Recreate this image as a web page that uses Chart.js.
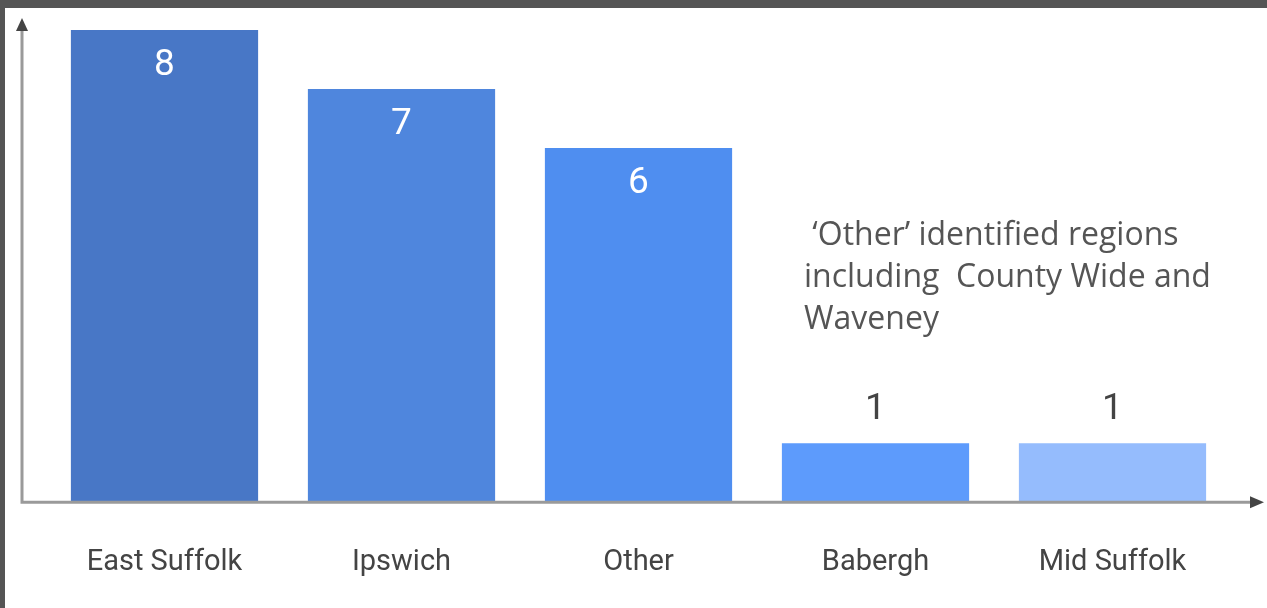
<!DOCTYPE html>
<html lang="en">
<head>
    <meta charset="UTF-8">
    <title>Regions chart</title>
    <style>
        html, body { margin: 0; padding: 0; background: #fff; }
        .main { width: 1267px; height: 608px; }
    </style>
</head>
<body>
    <div class="main">
        <canvas id="myChart" width="1267" height="608"></canvas>
    </div>

    <script src="https://cdn.jsdelivr.net/npm/chart.js"></script>
<script>
    const regions = ['East Suffolk', 'Ipswich', 'Other', 'Babergh', 'Mid Suffolk'];
    const counts = [8, 7, 6, 1, 1];
    const barColours = ['#4877c6', '#4f86dd', '#4f8ef0', '#5d9bfc', '#95bcfd'];
    const noteLines = [' \u2018Other\u2019 identified regions', 'including  County Wide and', 'Waveney'];

    // dark frame, arrow axes and the note
    const decor = {
        id: 'decor',
        beforeDraw(chart) {
            const c = chart.ctx;
            c.save();
            c.fillStyle = '#fff';
            c.fillRect(0, 0, chart.width, chart.height);
            c.fillStyle = '#555555';
            c.fillRect(0, 0, chart.width, 8);
            c.fillRect(0, 0, 5, chart.height);
            c.restore();
        },
        afterDatasetsDraw(chart) {
            const c = chart.ctx;
            const y0 = chart.scales.y.getPixelForValue(0);
            const ax = 22;
            c.save();
            c.strokeStyle = '#9a9a9a';
            c.lineWidth = 3;
            c.beginPath();
            c.moveTo(ax, 28);
            c.lineTo(ax, y0);
            c.lineTo(1250, y0);
            c.stroke();
            c.fillStyle = '#444';
            c.beginPath();
            c.moveTo(ax, 18);
            c.lineTo(ax - 6, 31);
            c.lineTo(ax + 6, 31);
            c.closePath();
            c.fill();
            c.beginPath();
            c.moveTo(1264, y0);
            c.lineTo(1250, y0 - 6);
            c.lineTo(1250, y0 + 6);
            c.closePath();
            c.fill();

            // value labels
            const meta = chart.getDatasetMeta(0);
            c.font = '37px Roboto';
            c.textAlign = 'center';
            c.textBaseline = 'middle';
            meta.data.forEach((bar, i) => {
                const v = counts[i];
                if (v > 2) {
                    c.fillStyle = '#ffffff';
                    c.fillText(v, bar.x, bar.y + 36);
                } else {
                    c.fillStyle = '#444444';
                    c.fillText(v, bar.x, bar.y - 33);
                }
            });

            // note
            c.font = '32px "Open Sans"';
            c.textAlign = 'left';
            c.fillStyle = '#555555';
            noteLines.forEach((t, i) => {
                c.fillText(t, 804, 236 + i * 42);
            });
            c.restore();
        }
    };

    const ctx = document.getElementById('myChart');
    new Chart(ctx, {
        type: 'bar',
        data: {
            labels: regions,
            datasets: [{
                data: counts,
                backgroundColor: barColours,
                borderWidth: 0,
                categoryPercentage: 1,
                barPercentage: 0.79
            }]
        },
        options: {
            responsive: false,
            animation: false,
            layout: { padding: { left: 46, right: 36, top: 30, bottom: -15 } },
            plugins: { legend: { display: false }, tooltip: { enabled: false } },
            scales: {
                y: { display: false, min: 0, max: 8 },
                x: {
                    grid: { display: false, drawTicks: false },
                    border: { display: false },
                    ticks: {
                        padding: 43,
                        color: '#444444',
                        font: { family: 'Roboto', size: 29 }
                    }
                }
            }
        },
        plugins: [decor]
    });
</script>
</body>
</html>
